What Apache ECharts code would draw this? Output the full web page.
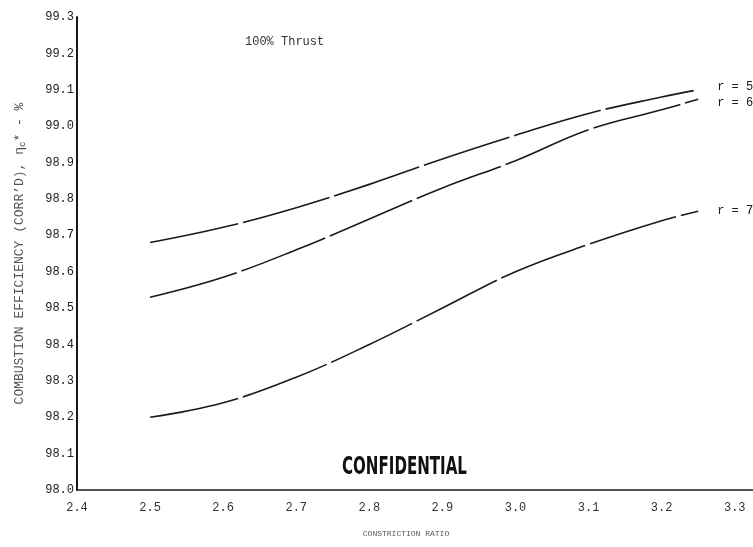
<!DOCTYPE html>
<html>
<head>
<meta charset="utf-8">
<script src="https://cdn.jsdelivr.net/npm/echarts@6/dist/echarts.min.js"></script>
<style>
  html, body { margin: 0; padding: 0; background: #fff; }
  #chart { width: 753px; height: 547px; }
</style>
</head>
<body>
<div id="chart"></div>
<script>
// Constriction ratio (x) and corrected combustion efficiency (%) for three mixture ratios
const ratios = [2.5, 2.6, 2.7, 2.8, 2.9, 3.0, 3.1, 3.2, 3.25];
const effR5 = [98.68, 98.722, 98.776, 98.84, 98.91, 98.975, 99.035, 99.08, 99.10];
const effR6 = [98.53, 98.585, 98.66, 98.745, 98.83, 98.905, 98.99, 99.045, 99.074];
const effR7 = [98.20, 98.24, 98.31, 98.40, 98.50, 98.60, 98.675, 98.74, 98.766];
const seriesNames = ['r = 5', 'r = 6', 'r = 7'];
const labelShift = [-3, 4, 0];
const xTicks = ['2.4', '2.5', '2.6', '2.7', '2.8', '2.9', '3.0', '3.1', '3.2', '3.3'];

const mono = '"Liberation Mono", "DejaVu Sans Mono", monospace';
const ink = '#1a1a1a';

function pairs(xs, ys) { return xs.map((x, i) => [x, ys[i]]); }

function curve(idx, values) {
  return {
    name: seriesNames[idx],
    type: 'line',
    data: pairs(ratios, values),
    smooth: 0.4,
    showSymbol: false,
    lineStyle: { color: ink, width: 1.6, type: [90, 5] },
    endLabel: {
      show: true,
      formatter: '{a}',
      color: ink,
      fontFamily: mono,
      fontSize: 12,
      distance: 19,
      offset: [0, labelShift[idx]]
    },
    z: 3
  };
}

const chart = echarts.init(document.getElementById('chart'));
chart.setOption({
  animation: false,
  backgroundColor: '#fff',
  // the x axis line runs a little past the last tick, out to the page edge
  grid: { left: 77, right: 0, top: 17, bottom: 57, containLabel: false },
  xAxis: {
    type: 'value',
    min: 2.4,
    max: 3.325,
    interval: 0.1,
    name: 'CONSTRICTION RATIO',
    nameLocation: 'middle',
    nameGap: 40,
    nameTextStyle: { fontFamily: mono, fontSize: 8, color: '#555', padding: [0, 18, 0, 0] },
    axisLine: { lineStyle: { color: ink, width: 1.5 } },
    axisTick: { show: false },
    splitLine: { show: false },
    axisLabel: {
      fontFamily: mono, fontSize: 12, color: '#333', margin: 12,
      showMaxLabel: false,
      formatter: v => {
        const k = Math.round((v - 2.4) * 10);
        return Math.abs((v - 2.4) * 10 - k) < 1e-6 ? (xTicks[k] || '') : '';
      }
    }
  },
  yAxis: {
    type: 'value',
    min: 98.0,
    max: 99.3,
    interval: 0.1,
    name: 'COMBUSTION EFFICIENCY (CORR\u2019D), {g|\u03b7}{s|c}{g|* - %}',
    nameLocation: 'middle',
    nameGap: 50,
    nameTextStyle: {
      fontFamily: mono, fontSize: 13, color: '#555',
      rich: {
        g: { fontFamily: mono, fontSize: 13, color: '#444' },
        s: { fontFamily: mono, fontSize: 9, color: '#444', padding: [6, 0, 0, 0] }
      }
    },
    axisLine: { show: true, lineStyle: { color: ink, width: 2 } },
    axisTick: { show: false },
    splitLine: { show: false },
    axisLabel: {
      fontFamily: mono, fontSize: 12, color: '#222', margin: 3,
      formatter: v => v.toFixed(1)
    }
  },
  series: [
    curve(0, effR5),
    curve(1, effR6),
    curve(2, effR7)
  ],
  graphic: [
    {
      type: 'text',
      x: 245,
      y: 36,
      style: { text: '100% Thrust', font: '12px ' + mono, fill: '#333' }
    },
    {
      type: 'text',
      x: 342,
      y: 455,
      scaleX: 0.67,
      style: {
        text: 'CONFIDENTIAL',
        font: 'bold 25px "DejaVu Sans Condensed", "DejaVu Sans", sans-serif',
        fill: '#111'
      }
    }
  ]
});
</script>
</body>
</html>
